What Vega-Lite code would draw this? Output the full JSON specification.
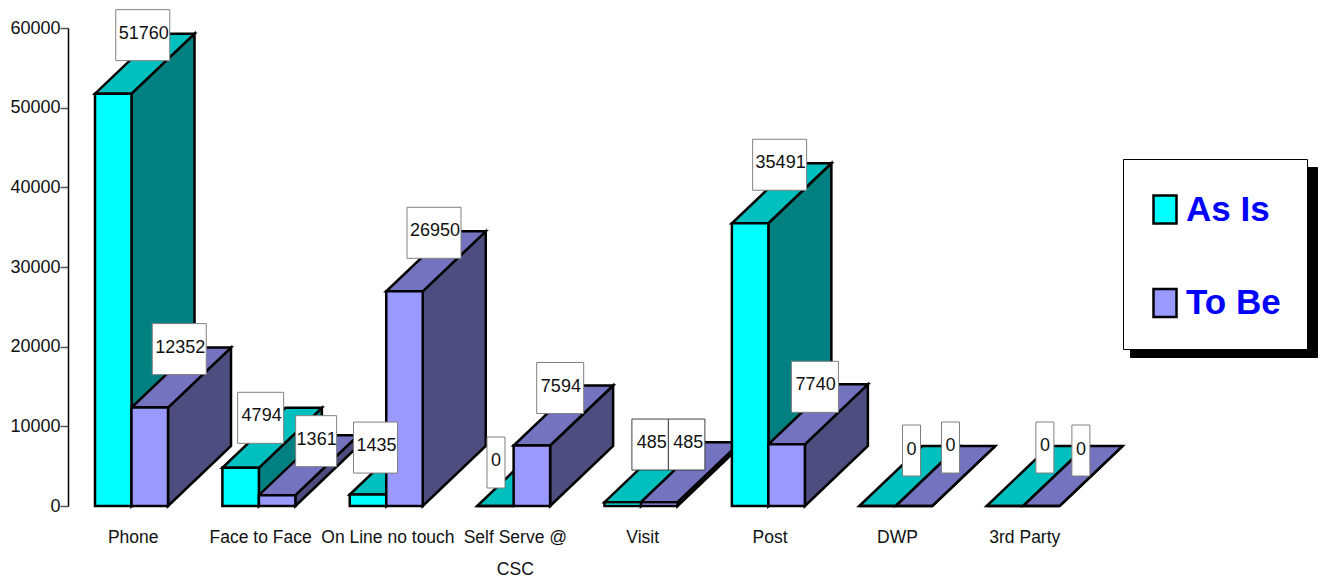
{
  "$schema": "https://vega.github.io/schema/vega-lite/v6.json",
  "width": 1019,
  "height": 478,
  "autosize": "none",
  "padding": {"left": 68, "top": 28, "right": 234, "bottom": 74},
  "background": "white",
  "config": {
    "view": {"stroke": null},
    "text": {"font": "Liberation Sans", "fontSize": 18, "fill": "#111111", "baseline": "middle", "align": "center"},
    "point": {"filled": true, "opacity": 1, "size": 4}
  },
  "data": {
    "values": [
      {"category": "Phone", "series": "As Is", "value": 51760, "edge": ["front", "back"]},
      {"category": "Phone", "series": "To Be", "value": 12352, "edge": ["front", "back"]},
      {"category": "Face to Face", "series": "As Is", "value": 4794, "edge": ["front", "back"]},
      {"category": "Face to Face", "series": "To Be", "value": 1361, "edge": ["front", "back"]},
      {"category": "On Line no touch", "series": "As Is", "value": 1435, "edge": ["front", "back"]},
      {"category": "On Line no touch", "series": "To Be", "value": 26950, "edge": ["front", "back"]},
      {"category": "Self Serve @ CSC", "series": "As Is", "value": 0, "edge": ["front", "back"]},
      {"category": "Self Serve @ CSC", "series": "To Be", "value": 7594, "edge": ["front", "back"]},
      {"category": "Visit", "series": "As Is", "value": 485, "edge": ["front", "back"]},
      {"category": "Visit", "series": "To Be", "value": 485, "edge": ["front", "back"]},
      {"category": "Post", "series": "As Is", "value": 35491, "edge": ["front", "back"]},
      {"category": "Post", "series": "To Be", "value": 7740, "edge": ["front", "back"]},
      {"category": "DWP", "series": "As Is", "value": 0, "edge": ["front", "back"]},
      {"category": "DWP", "series": "To Be", "value": 0, "edge": ["front", "back"]},
      {"category": "3rd Party", "series": "As Is", "value": 0, "edge": ["front", "back"]},
      {"category": "3rd Party", "series": "To Be", "value": 0, "edge": ["front", "back"]}
    ]
  },
  "encoding": {
    "x": {
      "field": "category",
      "type": "nominal",
      "sort": null,
      "scale": {"type": "band", "paddingInner": 0, "paddingOuter": 0},
      "axis": {
        "title": null,
        "domain": false,
        "ticks": false,
        "labelAngle": 0,
        "labelFont": "Liberation Sans",
        "labelFontSize": 17.5,
        "labelColor": "#111111",
        "labelPadding": 22,
        "labelOffset": 1.5,
        "labelLimit": 200,
        "labelLineHeight": 32,
        "labelExpr": "datum.label == 'Self Serve @ CSC' ? ['Self Serve @', 'CSC'] : datum.label"
      }
    },
    "xOffset": {
      "field": "series",
      "type": "nominal",
      "scale": {"type": "band", "domain": ["As Is", "To Be"], "range": [27, 100], "paddingInner": 0, "paddingOuter": 0}
    },
    "y": {
      "field": "value",
      "type": "quantitative",
      "stack": null,
      "scale": {"domain": [0, 60000], "nice": false},
      "axis": {
        "title": null,
        "grid": false,
        "values": [0, 10000, 20000, 30000, 40000, 50000, 60000],
        "format": "d",
        "domainColor": "black",
        "domainWidth": 1.5,
        "tickColor": "#555555",
        "tickWidth": 1.5,
        "tickSize": 8,
        "labelPadding": 0,
        "labelFont": "Liberation Sans",
        "labelFontSize": 18,
        "labelColor": "#111111"
      }
    }
  },
  "resolve": {"scale": {"xOffset": "independent"}},
  "layer": [
    {
      "transform": [
        {"filter": "datum.series === 'As Is'"},
        {"flatten": ["edge"]},
        {"calculate": "datum.edge === 'back' ? 7530 : 0", "as": "rise"},
        {"calculate": "datum.value + datum.rise", "as": "upper"}
      ],
      "mark": {"type": "area", "fill": "#008080", "strokeWidth": 2.5, "opacity": 1},
      "encoding": {
        "xOffset": {"field": "edge", "type": "nominal", "scale": {"type": "point", "domain": ["front", "back"], "range": [63.5, 126.5], "padding": 0}},
        "y": {"field": "upper", "type": "quantitative", "stack": null},
        "y2": {"field": "rise"},
        "detail": {"field": "category"},
        "stroke": {"field": "series", "type": "nominal", "scale": {"range": ["black", "black"]}, "legend": {
          "title": null, "orient": "none", "legendX": 1062, "legendY": 139, "zindex": 0,
          "fillColor": "black", "strokeColor": "black", "symbolFillColor": "black", "symbolStrokeColor": "black",
          "symbolType": "M-0.5,-0.609H0.5V0.609H-0.5Z", "symbolSize": 2116, "symbolStrokeWidth": 2.5, "symbolOffset": -8.5,
          "labelFont": "Liberation Sans", "labelFontSize": 35, "labelFontWeight": "bold", "labelOffset": 94,
          "labelExpr": "'\u00a0'",
          "rowPadding": 49.5, "padding": 26
        }}
      }
    },
    {
      "transform": [{"filter": "datum.series === 'As Is'"}],
      "mark": {"type": "point", "fill": "#00BFBF", "strokeWidth": 2.5, "shape": "M-18.25,0L18.25,0L81.25,-60L44.75,-60Z"},
      "encoding": {"stroke": {"field": "series", "type": "nominal"}}
    },
    {
      "transform": [
        {"filter": "datum.series === 'To Be'"},
        {"flatten": ["edge"]},
        {"calculate": "datum.edge === 'back' ? 7530 : 0", "as": "rise"},
        {"calculate": "datum.value + datum.rise", "as": "upper"}
      ],
      "mark": {"type": "area", "fill": "#4D4D80", "strokeWidth": 2.5, "opacity": 1},
      "encoding": {
        "xOffset": {"field": "edge", "type": "nominal", "scale": {"type": "point", "domain": ["front", "back"], "range": [100, 163], "padding": 0}},
        "y": {"field": "upper", "type": "quantitative", "stack": null},
        "y2": {"field": "rise"},
        "detail": {"field": "category"},
        "stroke": {"field": "series", "type": "nominal"}
      }
    },
    {
      "transform": [{"filter": "datum.series === 'To Be'"}],
      "mark": {"type": "point", "fill": "#7373BF", "strokeWidth": 2.5, "shape": "M-18.25,0L18.25,0L81.25,-60L44.75,-60Z"},
      "encoding": {"stroke": {"field": "series", "type": "nominal"}}
    },
    {
      "mark": {"type": "bar", "stroke": "black", "strokeWidth": 2.5},
      "encoding": {
        "fill": {"field": "series", "type": "nominal", "scale": {"domain": ["As Is", "To Be"], "range": ["#00FFFF", "#9999FF"]}, "legend": {
          "title": null, "orient": "none", "legendX": 1055, "legendY": 131, "zindex": 1,
          "fillColor": "white", "strokeColor": "black", "symbolStrokeColor": "black",
          "symbolType": "M-0.5,-0.609H0.5V0.609H-0.5Z", "symbolSize": 2116, "symbolStrokeWidth": 2.5, "symbolOffset": -8.5,
          "labelFont": "Liberation Sans", "labelFontSize": 35, "labelFontWeight": "bold", "labelColor": "#0000FF", "labelOffset": -3.5,
          "rowPadding": 49.5, "padding": 26
        }}
      }
    },
    {
      "transform": [{"filter": "datum.value >= 10000"}],
      "mark": {"type": "point", "fill": "white", "stroke": "#808080", "strokeWidth": 1, "shape": "M2.5,-84H56.5V-33H2.5Z"}
    },
    {
      "transform": [{"filter": "datum.value >= 10000"}],
      "mark": {"type": "text", "dx": 30.5, "dy": -60},
      "encoding": {"text": {"field": "value", "type": "quantitative", "format": "d"}}
    },
    {
      "transform": [{"filter": "datum.value === 7594 || datum.value === 7740"}],
      "mark": {"type": "point", "fill": "white", "stroke": "#808080", "strokeWidth": 1, "shape": "M4.8,-83H51.8V-32H4.8Z"}
    },
    {
      "transform": [{"filter": "datum.value === 7594 || datum.value === 7740"}],
      "mark": {"type": "text", "dx": 29, "dy": -59},
      "encoding": {"text": {"field": "value", "type": "quantitative", "format": "d"}}
    },
    {
      "transform": [{"filter": "datum.value === 485"}],
      "mark": {"type": "point", "fill": "white", "stroke": "#404040", "strokeWidth": 1, "shape": "M9.15,-83.1H45.65V-32.1H9.15Z"}
    },
    {
      "transform": [{"filter": "datum.value === 485"}],
      "mark": {"type": "text", "dx": 29, "dy": -59},
      "encoding": {"text": {"field": "value", "type": "quantitative", "format": "d"}}
    },
    {
      "transform": [{"filter": "datum.value === 4794"}],
      "mark": {"type": "point", "fill": "white", "stroke": "#808080", "strokeWidth": 1, "shape": "M-3,-75.5H43V-24.5H-3Z"}
    },
    {
      "transform": [{"filter": "datum.value === 4794"}],
      "mark": {"type": "text", "dx": 21, "dy": -52},
      "encoding": {"text": {"field": "value", "type": "quantitative", "format": "d"}}
    },
    {
      "transform": [{"filter": "datum.value === 1361"}],
      "mark": {"type": "point", "fill": "white", "stroke": "#808080", "strokeWidth": 1, "shape": "M18.5,-79.5H59.5V-28.5H18.5Z"}
    },
    {
      "transform": [{"filter": "datum.value === 1361"}],
      "mark": {"type": "text", "dx": 39.5, "dy": -55},
      "encoding": {"text": {"field": "value", "type": "quantitative", "format": "d"}}
    },
    {
      "transform": [{"filter": "datum.value === 1435"}],
      "mark": {"type": "point", "fill": "white", "stroke": "#808080", "strokeWidth": 1, "shape": "M-14.5,-72.5H29.5V-21.5H-14.5Z"}
    },
    {
      "transform": [{"filter": "datum.value === 1435"}],
      "mark": {"type": "text", "dx": 8.5, "dy": -49},
      "encoding": {"text": {"field": "value", "type": "quantitative", "format": "d"}}
    },
    {
      "transform": [{"filter": "datum.value === 0 && datum.category === 'Self Serve @ CSC'"}],
      "mark": {"type": "point", "fill": "white", "stroke": "#808080", "strokeWidth": 1, "shape": "M-8.4,-69H9.6V-18H-8.4Z"}
    },
    {
      "transform": [{"filter": "datum.value === 0 && datum.category === 'Self Serve @ CSC'"}],
      "mark": {"type": "text", "dx": 0.6, "dy": -45},
      "encoding": {"text": {"field": "value", "type": "quantitative", "format": "d"}}
    },
    {
      "transform": [{"filter": "datum.category === 'DWP' && datum.series === 'As Is'"}],
      "mark": {"type": "point", "fill": "white", "stroke": "#808080", "strokeWidth": 1, "shape": "M25,-81H43V-30H25Z"}
    },
    {
      "transform": [{"filter": "datum.category === 'DWP' && datum.series === 'As Is'"}],
      "mark": {"type": "text", "dx": 34, "dy": -56.5},
      "encoding": {"text": {"field": "value", "type": "quantitative", "format": "d"}}
    },
    {
      "transform": [{"filter": "datum.category === 'DWP' && datum.series === 'To Be'"}],
      "mark": {"type": "point", "fill": "white", "stroke": "#808080", "strokeWidth": 1, "shape": "M27.5,-84H45.5V-33H27.5Z"}
    },
    {
      "transform": [{"filter": "datum.category === 'DWP' && datum.series === 'To Be'"}],
      "mark": {"type": "text", "dx": 36.5, "dy": -60},
      "encoding": {"text": {"field": "value", "type": "quantitative", "format": "d"}}
    },
    {
      "transform": [{"filter": "datum.category === '3rd Party' && datum.series === 'As Is'"}],
      "mark": {"type": "point", "fill": "white", "stroke": "#808080", "strokeWidth": 1, "shape": "M31,-84H49V-33H31Z"}
    },
    {
      "transform": [{"filter": "datum.category === '3rd Party' && datum.series === 'As Is'"}],
      "mark": {"type": "text", "dx": 40, "dy": -60},
      "encoding": {"text": {"field": "value", "type": "quantitative", "format": "d"}}
    },
    {
      "transform": [{"filter": "datum.category === '3rd Party' && datum.series === 'To Be'"}],
      "mark": {"type": "point", "fill": "white", "stroke": "#808080", "strokeWidth": 1, "shape": "M30.5,-81H48.5V-30H30.5Z"}
    },
    {
      "transform": [{"filter": "datum.category === '3rd Party' && datum.series === 'To Be'"}],
      "mark": {"type": "text", "dx": 39.5, "dy": -56.5},
      "encoding": {"text": {"field": "value", "type": "quantitative", "format": "d"}}
    }
  ]
}
